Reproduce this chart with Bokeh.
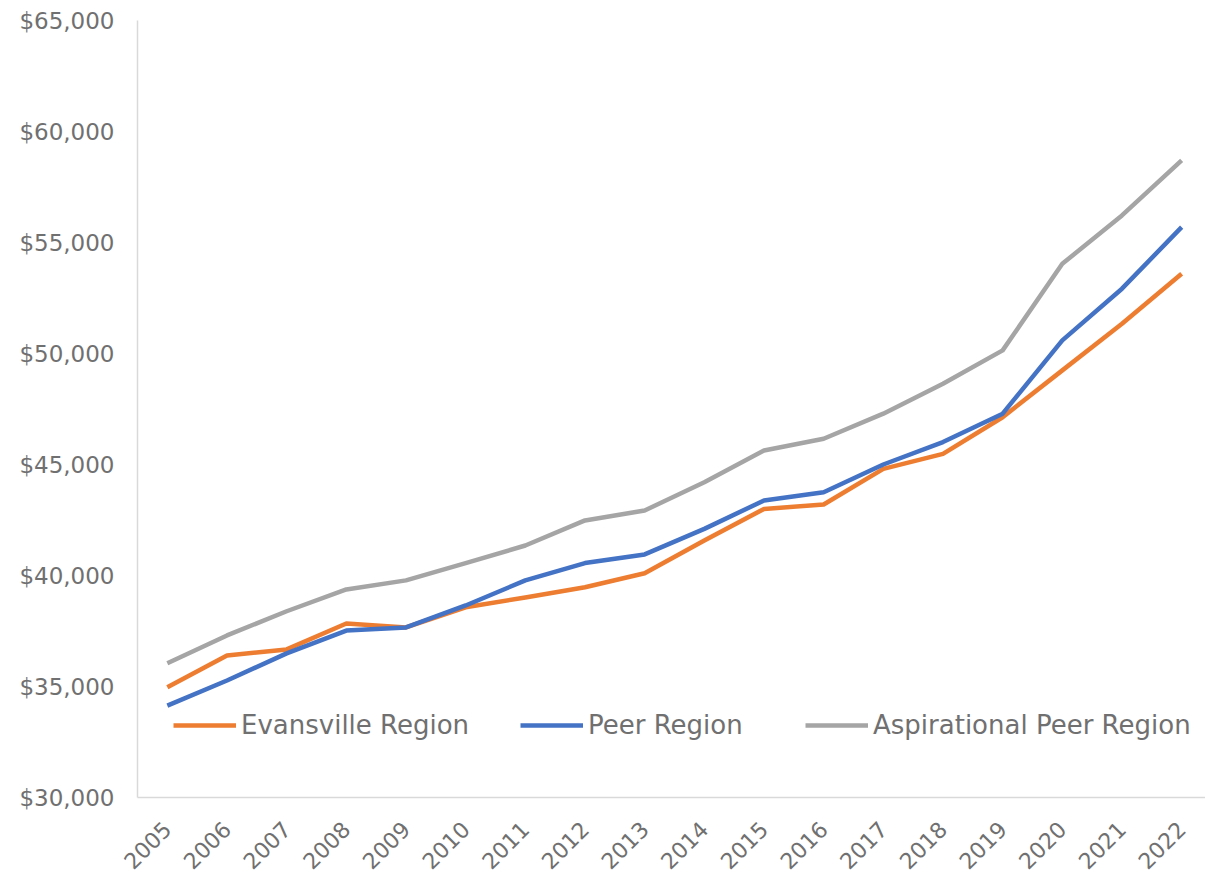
from bokeh.plotting import figure
from bokeh.models import Range1d, FixedTicker, NumeralTickFormatter, Legend, LegendItem, ColumnDataSource
from bokeh.embed import file_html
from bokeh.resources import INLINE
import math

years = [2005, 2006, 2007, 2008, 2009, 2010, 2011, 2012, 2013, 2014, 2015, 2016, 2017, 2018, 2019, 2020, 2021, 2022]
evansville = [34970, 36400, 36670, 37840, 37660, 38570, 39010, 39470, 40100, 41580, 43000, 43200, 44800, 45480, 47130, 49240, 51340, 53590]
peer = [34140, 35270, 36490, 37520, 37660, 38650, 39780, 40560, 40950, 42100, 43380, 43750, 45000, 46010, 47290, 50590, 52920, 55690]
aspirational = [36050, 37300, 38390, 39370, 39780, 40560, 41350, 42480, 42930, 44200, 45630, 46160, 47290, 48640, 50140, 54040, 56220, 58700]
series_names = ["Evansville Region", "Peer Region", "Aspirational Peer Region"]
series_colors = ["#ED7D31", "#4472C4", "#A5A5A5"]
y_ticks = [30000, 35000, 40000, 45000, 50000, 55000, 60000, 65000]

FONT = "DejaVu Sans"
TXT = "#707070"

p = figure(width=1205, height=880, output_backend="svg", toolbar_location=None,
           x_range=Range1d(2004.5, 2022.4), y_range=Range1d(30000, 65000),
           min_border_left=137, min_border_top=20, min_border_bottom=83, min_border_right=0)
p.outline_line_color = None
p.xgrid.visible = False
p.ygrid.visible = False

renderers = []
for vals, col in zip([evansville, peer, aspirational], series_colors):
    src = ColumnDataSource(dict(x=years, y=vals))
    r = p.line("x", "y", source=src, line_color=col, line_width=4.5, line_join="round")
    renderers.append(r)

p.xaxis.ticker = FixedTicker(ticks=years)
p.xaxis.major_label_orientation = math.pi / 4
p.yaxis.ticker = FixedTicker(ticks=y_ticks)
p.yaxis.formatter = NumeralTickFormatter(format="$0,0")
for ax in [p.xaxis[0], p.yaxis[0]]:
    ax.axis_line_color = "#d9d9d9"
    ax.axis_line_width = 1.5
    ax.major_tick_line_color = None
    ax.minor_tick_line_color = None
    ax.major_label_text_font = FONT
    ax.major_label_text_color = TXT
p.yaxis.major_label_text_font_size = "23px"
p.xaxis.major_label_text_font_size = "22px"
p.yaxis.major_label_standoff = 17
p.xaxis.major_label_standoff = 22

legend_x = [36, 383, 668]
for name, r, lx in zip(series_names, renderers, legend_x):
    lg = Legend(items=[LegendItem(label=name, renderers=[r])], location=(lx, 57),
                orientation="horizontal", padding=0, margin=0, spacing=0,
                glyph_width=63, glyph_height=30, label_standoff=5, label_height=30,
                border_line_alpha=0, background_fill_alpha=0,
                label_text_font=FONT, label_text_font_size="26px", label_text_color=TXT)
    p.add_layout(lg, "center")

open("out.html", "w").write(file_html(p, INLINE))
